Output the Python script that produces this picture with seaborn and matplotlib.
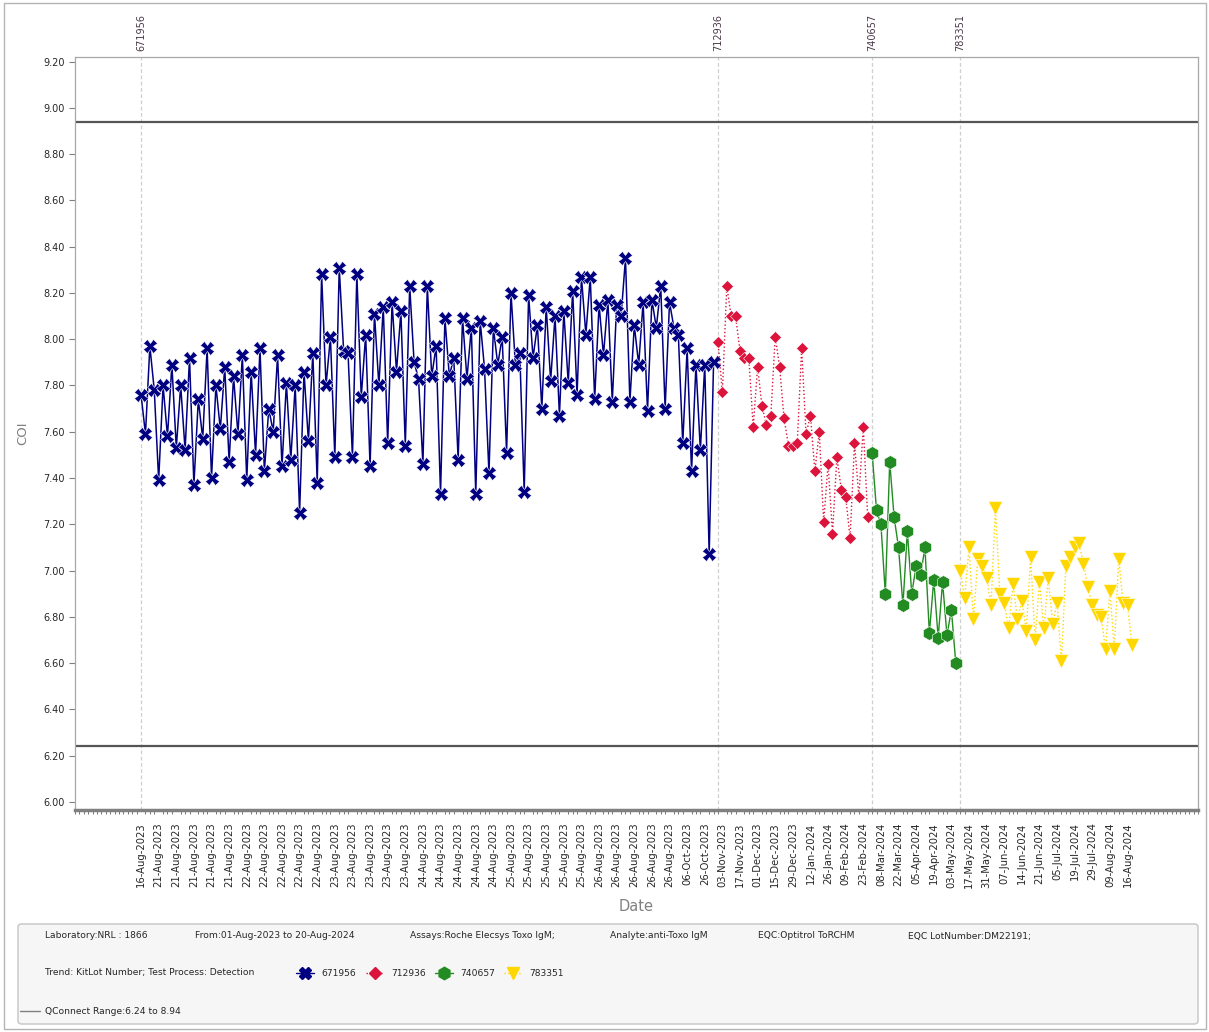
import matplotlib.pyplot as plt
import seaborn as sns
import pandas as pd
import numpy as np
import matplotlib.transforms as mtransforms
from matplotlib.lines import Line2D
from matplotlib.patches import FancyBboxPatch, Rectangle
from matplotlib.ticker import MultipleLocator, FormatStrFormatter

sns.set_style("white")
plt.rcParams["font.family"] = ["DejaVu Sans"]

# kit lots, in order of use
lots = ["671956", "712936", "740657", "783351"]

coi_671956 = [
    7.76, 7.59, 7.97, 7.78, 7.39, 7.80, 7.58, 7.89, 7.53, 7.80,
    7.52, 7.92, 7.37, 7.74, 7.57, 7.96, 7.40, 7.80, 7.61, 7.88,
    7.47, 7.84, 7.59, 7.93, 7.39, 7.86, 7.50, 7.96, 7.43, 7.70,
    7.60, 7.93, 7.45, 7.81, 7.48, 7.80, 7.25, 7.86, 7.56, 7.94,
    7.38, 8.28, 7.80, 8.01, 7.49, 8.31, 7.95, 7.94, 7.49, 8.28,
    7.75, 8.02, 7.45, 8.11, 7.80, 8.14, 7.55, 8.16, 7.86, 8.12,
    7.54, 8.23, 7.90, 7.83, 7.46, 8.23, 7.84, 7.97, 7.33, 8.09,
    7.84, 7.92, 7.48, 8.09, 7.83, 8.05, 7.33, 8.08, 7.87, 7.42,
    8.05, 7.89, 8.01, 7.51, 8.20, 7.89, 7.94, 7.34, 8.19, 7.92,
    8.06, 7.70, 8.14, 7.82, 8.10, 7.67, 8.12, 7.81, 8.21, 7.76,
    8.27, 8.02, 8.27, 7.74, 8.15, 7.93, 8.17, 7.73, 8.15, 8.10,
    8.35, 7.73, 8.06, 7.89, 8.16, 7.69, 8.17, 8.05, 8.23, 7.70,
    8.16, 8.05, 8.02, 7.55, 7.96, 7.43, 7.89, 7.52, 7.89, 7.07,
    7.90,
]
coi_712936 = [
    7.99, 7.77, 8.23, 8.10, 8.10, 7.95, 7.92, 7.92, 7.62, 7.88,
    7.71, 7.63, 7.67, 8.01, 7.88, 7.66, 7.54, 7.54, 7.55, 7.96,
    7.59, 7.67, 7.43, 7.60, 7.21, 7.46, 7.16, 7.49, 7.35, 7.32,
    7.14, 7.55, 7.32, 7.62, 7.23,
]
coi_740657 = [
    7.51, 7.26, 7.20, 6.90, 7.47, 7.23, 7.10, 6.85, 7.17, 6.90,
    7.02, 6.98, 7.10, 6.73, 6.96, 6.71, 6.95, 6.72, 6.83, 6.60,
]
coi_783351 = [
    7.00, 6.88, 7.10, 6.79, 7.05, 7.02, 6.97, 6.85, 7.27, 6.90,
    6.86, 6.75, 6.94, 6.79, 6.87, 6.74, 7.06, 6.70, 6.95, 6.75,
    6.97, 6.77, 6.86, 6.61, 7.02, 7.06, 7.10, 7.12, 7.03, 6.93,
    6.85, 6.81, 6.80, 6.66, 6.91, 6.66, 7.05, 6.86, 6.85, 6.68,
]

# one label for every 4th result
date_labels = (["16-Aug-2023"]
               + ["21-Aug-2023"] * 5 + ["22-Aug-2023"] * 5 + ["23-Aug-2023"] * 5
               + ["24-Aug-2023"] * 5 + ["25-Aug-2023"] * 5 + ["26-Aug-2023"] * 5
               + ["06-Oct-2023", "26-Oct-2023", "03-Nov-2023", "17-Nov-2023",
                  "01-Dec-2023", "15-Dec-2023", "29-Dec-2023", "12-Jan-2024",
                  "26-Jan-2024", "09-Feb-2024", "23-Feb-2024", "08-Mar-2024",
                  "22-Mar-2024", "05-Apr-2024", "19-Apr-2024", "03-May-2024",
                  "17-May-2024", "31-May-2024", "07-Jun-2024", "14-Jun-2024",
                  "21-Jun-2024", "05-Jul-2024", "19-Jul-2024", "29-Jul-2024",
                  "09-Aug-2024", "16-Aug-2024"])

range_low, range_high = 6.24, 8.94

info_row = ["Laboratory:NRL : 1866", "From:01-Aug-2023 to 20-Aug-2024",
            "Assays:Roche Elecsys Toxo IgM;", "Analyte:anti-Toxo IgM",
            "EQC:Optitrol ToRCHM", "EQC LotNumber:DM22191;"]

styles = {
    "671956": dict(color="#000080", marker="X", markersize=10, linestyle="-", linewidth=1.1),
    "712936": dict(color="#dc143c", marker="D", markersize=6.5, linestyle=":", linewidth=1.0),
    "740657": dict(color="#228b22", marker="h", markersize=10, linestyle="-", linewidth=1.0),
    "783351": dict(color="#ffd700", marker="v", markersize=10, linestyle=":", linewidth=1.0),
}

frames = []
start = 0
for lot, vals in zip(lots, [coi_671956, coi_712936, coi_740657, coi_783351]):
    frames.append(pd.DataFrame({"Point": np.arange(start, start + len(vals)),
                                "COI": vals, "Lot": lot}))
    start += len(vals)
df = pd.concat(frames, ignore_index=True)
lot_starts = df.groupby("Lot", sort=False)["Point"].min()

W, H = 1209, 1032
fig = plt.figure(figsize=(W / 100, H / 100), dpi=100)
ax = fig.add_axes([75 / W, 1 - 810 / H, (1198 - 75) / W, (810 - 57) / H])

for lot in lots:
    st = styles[lot]
    sns.lineplot(data=df[df["Lot"] == lot], x="Point", y="COI", ax=ax, sort=False,
                 color=st["color"], marker=st["marker"], markersize=st["markersize"],
                 linestyle=st["linestyle"], linewidth=st["linewidth"],
                 markeredgecolor="white", markeredgewidth=0.4, zorder=3)

# QC range lines
ax.axhline(range_high, color="#555555", lw=1.6, zorder=2)
ax.axhline(range_low, color="#555555", lw=1.6, zorder=2)

# lot change markers
trans = mtransforms.blended_transform_factory(ax.transData, ax.transAxes)
for lot, pos in lot_starts.items():
    ax.axvline(pos, color="#cfcfcf", ls=(0, (3, 2)), lw=0.9, zorder=1)
    ax.text(pos, 1.008, lot, transform=trans, rotation=90, ha="center", va="bottom",
            fontsize=7, color="#4a3848")

ax.set_xlim(-15, 240)
ax.set_ylim(5.965, 9.22)
ax.set_yticks(np.arange(6.0, 9.21, 0.2))
ax.yaxis.set_major_formatter(FormatStrFormatter("%.2f"))
ax.set_xticks(np.arange(0, 4 * len(date_labels), 4))
ax.set_xticklabels(date_labels, rotation=90)
ax.xaxis.set_minor_locator(MultipleLocator(1))
ax.tick_params(axis="x", which="major", length=5, width=0.8, color="#606060",
               labelsize=7.2, pad=4)
ax.tick_params(axis="x", which="minor", length=3, width=0.6, color="#606060", bottom=True)
ax.tick_params(axis="y", which="major", length=4, width=0.8, color="#808080",
               labelsize=7, left=True)

ax.set_xlabel("Date", fontsize=10.5, color="#808080", labelpad=8)
ax.set_ylabel("COI", fontsize=9.5, color="#808080", labelpad=10)

for side in ["top", "right", "left"]:
    ax.spines[side].set_color("#a8a8a8")
    ax.spines[side].set_linewidth(0.9)
ax.spines["bottom"].set_color("#808080")
ax.spines["bottom"].set_linewidth(2.5)


def fx(px):
    return px / W


def fy(py):
    return 1 - py / H


# outer frame and info box
fig.add_artist(Rectangle((fx(4), fy(1029)), fx(1202), 1026 / H, transform=fig.transFigure,
                         fill=False, ec="#b4b4b4", lw=1))
fig.add_artist(FancyBboxPatch((fx(18), fy(1024)), fx(1180), 100 / H,
                              boxstyle="round,pad=0,rounding_size=0.003",
                              transform=fig.transFigure, fc="#f6f6f6", ec="#c4c4c4", lw=1))

for txt, xpos in zip(info_row, [45, 195, 410, 610, 758, 908]):
    fig.text(fx(xpos), fy(936), txt, fontsize=6.6, va="center", ha="left")

fig.text(fx(45), fy(973), "Trend: KitLot Number; Test Process: Detection",
         fontsize=6.6, va="center", ha="left")
for lot, xpos in zip(lots, [305, 375, 444, 513]):
    st = styles[lot]
    fig.add_artist(Line2D([fx(xpos - 9), fx(xpos + 9)], [fy(973), fy(973)],
                          transform=fig.transFigure, color=st["color"],
                          linestyle=st["linestyle"], lw=1))
    fig.add_artist(Line2D([fx(xpos)], [fy(973)], transform=fig.transFigure,
                          color=st["color"], marker=st["marker"],
                          markersize=st["markersize"] * 0.9, lw=0))
    fig.text(fx(xpos + 16), fy(973), lot, fontsize=6.6, va="center", ha="left")

fig.add_artist(Line2D([fx(20), fx(40)], [fy(1011), fy(1011)], transform=fig.transFigure,
                      color="#808080", lw=1))
fig.text(fx(45), fy(1011), "QConnect Range:%.2f to %.2f" % (range_low, range_high),
         fontsize=6.6, va="center", ha="left")

fig.savefig("out.png", dpi=100)
